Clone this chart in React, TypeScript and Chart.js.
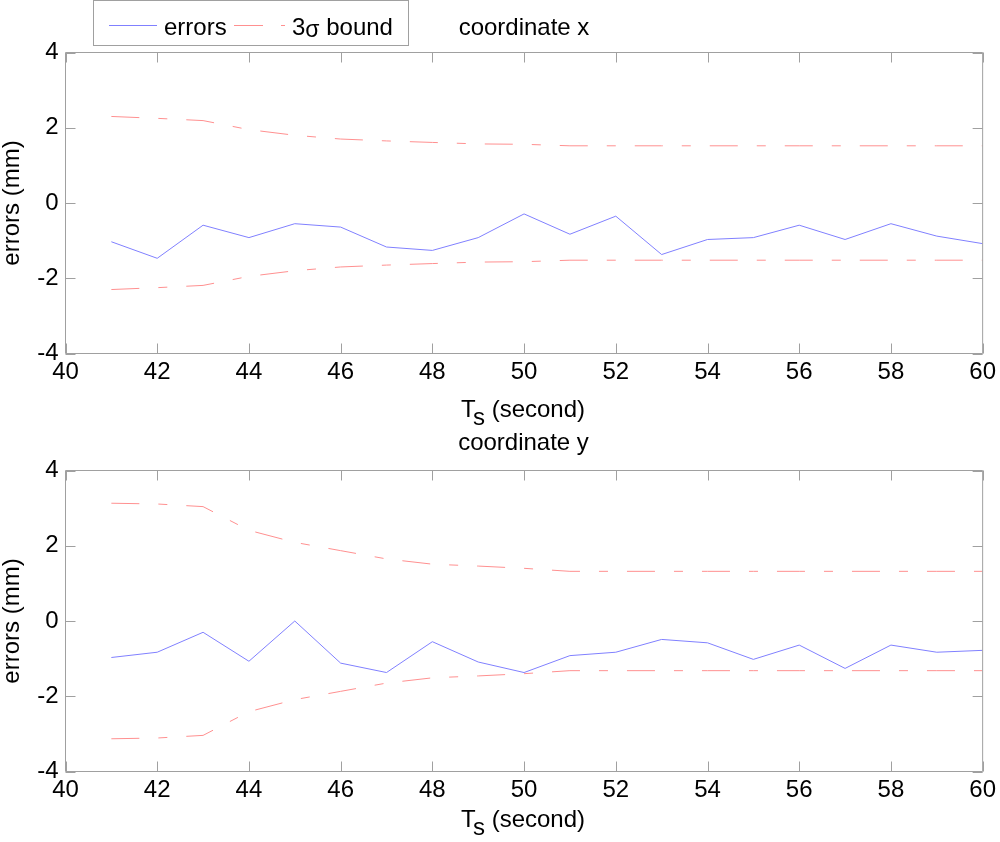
import React, { useEffect, useRef } from "react";
import { Chart, registerables } from "chart.js";

Chart.register(...registerables);

// ---- data ----
const timeSteps = [41, 42, 43, 44, 45, 46, 47, 48, 49, 50, 51, 52, 53, 54, 55, 56, 57, 58, 59, 60];
const xTickValues = [40, 42, 44, 46, 48, 50, 52, 54, 56, 58, 60];
const yTickValues = [-4, -2, 0, 2, 4];

const errorsCoordX = [-1.03, -1.47, -0.59, -0.92, -0.55, -0.64, -1.17, -1.26, -0.92, -0.29, -0.83, -0.35, -1.37, -0.97, -0.92, -0.59, -0.97, -0.55, -0.88, -1.08];
const boundCoordX = [2.3, 2.25, 2.19, 1.95, 1.8, 1.7, 1.65, 1.61, 1.57, 1.56, 1.52, 1.52, 1.52, 1.52, 1.52, 1.52, 1.52, 1.52, 1.52, 1.52];

const errorsCoordY = [-0.97, -0.83, -0.3, -1.07, 0.0, -1.12, -1.37, -0.55, -1.09, -1.37, -0.92, -0.83, -0.49, -0.58, -1.02, -0.64, -1.26, -0.64, -0.83, -0.78];
const boundCoordY = [3.13, 3.11, 3.04, 2.41, 2.09, 1.87, 1.65, 1.51, 1.46, 1.4, 1.32, 1.32, 1.32, 1.32, 1.32, 1.32, 1.32, 1.32, 1.32, 1.32];

// ---- styles ----
const FONT = '"Liberation Sans", Arial, Helvetica, sans-serif';
const AXIS_GRAY = "#a0a0a0";
const BLUE = "#8080ff";
const RED = "#ff9090";
const DASH = [28, 19, 9, 19];
const TICK_LEN = 10;

const boxPlugin = {
  id: "matlabBox",
  afterDraw(chart: any) {
    const { ctx, chartArea, scales } = chart;
    const { left, right, top, bottom } = chartArea;
    ctx.save();
    ctx.strokeStyle = AXIS_GRAY;
    ctx.lineWidth = 1;
    ctx.beginPath();
    ctx.rect(left, top, right - left, bottom - top);
    for (const t of scales.x.ticks) {
      const px = Math.round(scales.x.getPixelForValue(t.value)) + 0.5;
      ctx.moveTo(px, bottom);
      ctx.lineTo(px, bottom - TICK_LEN);
      ctx.moveTo(px, top);
      ctx.lineTo(px, top + TICK_LEN);
    }
    for (const t of scales.y.ticks) {
      const py = Math.round(scales.y.getPixelForValue(t.value)) + 0.5;
      ctx.moveTo(left, py);
      ctx.lineTo(left + TICK_LEN, py);
      ctx.moveTo(right, py);
      ctx.lineTo(right - TICK_LEN, py);
    }
    ctx.stroke();
    ctx.restore();
  },
};

function makeConfig(errors: number[], bound: number[], padTop: number, xHeight: number): any {
  const pts = (arr: number[], sign = 1) => timeSteps.map((t, i) => ({ x: t, y: sign * arr[i] }));
  const lineBase = { borderWidth: 1, pointRadius: 0, fill: false, tension: 0 };
  return {
    type: "line",
    data: {
      datasets: [
        { ...lineBase, label: "errors", data: pts(errors), borderColor: BLUE },
        { ...lineBase, label: "3σ bound", data: pts(bound), borderColor: RED, borderDash: DASH },
        { ...lineBase, label: "-3σ bound", data: pts(bound, -1), borderColor: RED, borderDash: DASH },
      ],
    },
    options: {
      responsive: false,
      animation: false,
      devicePixelRatio: 1,
      layout: { padding: { left: 0, right: 12.5, top: padTop, bottom: 0 } },
      plugins: { legend: { display: false }, tooltip: { enabled: false }, title: { display: false } },
      scales: {
        x: {
          type: "linear",
          min: 40,
          max: 60,
          afterBuildTicks: (s: any) => {
            s.ticks = xTickValues.map((v) => ({ value: v }));
          },
          ticks: { font: { family: FONT, size: 24 }, color: "#000", padding: 4, maxRotation: 0, autoSkip: false },
          grid: { display: false, drawTicks: false },
          border: { display: false },
          afterFit: (s: any) => {
            s.height = xHeight;
          },
        },
        y: {
          type: "linear",
          min: -4,
          max: 4,
          afterBuildTicks: (s: any) => {
            s.ticks = yTickValues.map((v) => ({ value: v }));
          },
          ticks: { font: { family: FONT, size: 24 }, color: "#000", padding: 7 },
          grid: { display: false, drawTicks: false },
          border: { display: false },
          title: { display: true, text: "errors (mm)", color: "#000", font: { family: FONT, size: 24, lineHeight: 1 }, padding: 0 },
          afterFit: (s: any) => {
            s.width = 65.5;
          },
        },
      },
    },
    plugins: [boxPlugin],
  };
}

function Panel(props: { top: number; height: number; errors: number[]; bound: number[]; padTop: number; xHeight: number }) {
  const ref = useRef<HTMLCanvasElement>(null);
  useEffect(() => {
    if (!ref.current) return;
    const chart = new Chart(ref.current, makeConfig(props.errors, props.bound, props.padTop, props.xHeight));
    return () => chart.destroy();
  }, []);
  return (
    <canvas
      ref={ref}
      width={1000}
      height={props.height}
      style={{ position: "absolute", left: 0, top: props.top, width: 1000, height: props.height }}
    />
  );
}

const textStyle: React.CSSProperties = {
  position: "absolute",
  font: `24px ${FONT}`,
  lineHeight: "24px",
  color: "#000",
  whiteSpace: "nowrap",
};

export default function App() {
  return (
    <div style={{ position: "absolute", left: 0, top: 0, width: 1000, height: 842, background: "#fff", overflow: "hidden" }}>
      <Panel top={0} height={420} errors={errorsCoordX} bound={boundCoordX} padTop={52.5} xHeight={66.5} />
      <Panel top={420} height={422} errors={errorsCoordY} bound={boundCoordY} padTop={50.5} xHeight={70.5} />

      {/* titles */}
      <div style={{ ...textStyle, left: 324, width: 400, top: 14.7, textAlign: "center" }}>coordinate x</div>
      <div style={{ ...textStyle, left: 323.5, width: 400, top: 430.4, textAlign: "center" }}>coordinate y</div>

      {/* x axis titles */}
      <div style={{ ...textStyle, left: 323, width: 400, top: 396.7, textAlign: "center" }}>
        T<span style={{ position: "relative", top: 8 }}>s</span> (second)
      </div>
      <div style={{ ...textStyle, left: 323, width: 400, top: 806.7, textAlign: "center" }}>
        T<span style={{ position: "relative", top: 8 }}>s</span> (second)
      </div>

      {/* legend */}
      <div
        style={{
          position: "absolute",
          left: 93,
          top: 0,
          width: 316,
          height: 46,
          border: `1px solid ${AXIS_GRAY}`,
          boxSizing: "border-box",
          background: "#fff",
        }}
      />
      <div style={{ position: "absolute", left: 109, top: 25, width: 48, height: 1, background: BLUE }} />
      <div style={{ ...textStyle, left: 164, top: 14.7 }}>errors</div>
      <div style={{ position: "absolute", left: 234, top: 25, width: 29, height: 1, background: RED }} />
      <div style={{ position: "absolute", left: 281, top: 25, width: 4, height: 1, background: RED }} />
      <div style={{ ...textStyle, left: 292, top: 14.7 }}>
        3<span style={{ position: "relative", top: 2, fontSize: 23 }}>σ</span> bound
      </div>
    </div>
  );
}
